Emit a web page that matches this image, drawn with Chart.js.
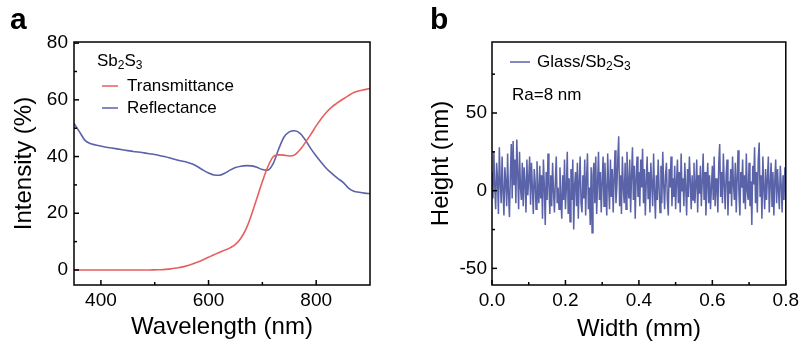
<!DOCTYPE html>
<html><head><meta charset="utf-8">
<script src="https://cdn.jsdelivr.net/npm/chart.js@4.4.1/dist/chart.umd.min.js"></script>
<style>
html,body{margin:0;padding:0;background:#fff;width:803px;height:349px;overflow:hidden}
#wa{position:absolute;left:0;top:0;width:400px;height:349px}
#wb{position:absolute;left:400px;top:0;width:403px;height:349px}
</style></head><body>
<div id="wa"><canvas id="ca" width="400" height="349"></canvas></div>
<div id="wb"><canvas id="cb" width="403" height="349"></canvas></div>
<script>
// ---------- Panel a data ----------
const wavelengths = [350,360,370,380,390,400,410,420,430,440,450,460,470,480,490,500,510,520,530,540,550,560,570,580,590,600,610,620,630,640,650,660,670,680,690,700,710,720,730,740,750,760,770,780,790,800,810,820,830,840,850,860,870,880,890,900];
const transmittance = [0,0,0,0,0,0,0,0,0,0,0,0,0,0,0,0.05,0.1,0.2,0.4,0.7,1.0,1.5,2.1,2.8,3.6,4.5,5.4,6.2,7.0,7.8,9.0,11.2,14.6,19.6,25.4,31.2,36.3,39.9,40.6,40.5,40.2,40.6,42.4,45.0,47.8,50.8,53.5,55.8,57.6,59.0,60.3,61.5,62.6,63.2,63.6,64.0];
const reflectance = [51.7,48.8,45.8,44.6,44.1,43.7,43.3,43.0,42.7,42.4,42.1,41.8,41.6,41.3,41.0,40.7,40.3,39.9,39.4,38.9,38.4,38.0,37.4,36.4,35.2,34.2,33.5,33.4,34.1,35.2,36.1,36.6,36.8,36.7,36.2,35.4,35.2,37.5,42.5,46.8,48.7,49.1,48.2,45.8,42.8,40.2,37.8,35.6,33.9,32.3,30.9,28.9,27.8,27.4,27.1,26.9];
const aXTicks = [400,600,800];
const aXMinor = [500,700];
const aYTicks = [0,20,40,60,80];
const aYMinor = [10,30,50,70];

// ---------- Panel b data ----------
const widthStepMm = 0.0025;
const heights = [
12,-5,25,3,-12,18,8,-15,28,5,-8,22,0,-16,15,6,-10,24,-2,-17,
10,30,-5,32,4,20,-8,33,12,-12,25,2,-6,18,-10,15,5,-14,20,-3,
8,22,-9,18,2,-15,14,6,-12,19,0,-8,16,-5,10,-18,20,3,-22,12,
-6,24,4,-15,10,-10,18,0,-14,6,22,-8,2,-12,15,-4,-18,10,-6,20,
-12,2,25,-15,8,-20,14,-6,20,-25,4,12,-10,18,-18,6,22,-8,-14,10,
-5,20,-16,8,24,-12,2,-22,15,-27,10,18,-8,22,-15,5,25,-6,12,-14,
6,22,-10,18,0,-16,24,4,-12,20,-4,14,-14,8,26,-8,2,20,35,-10,
10,-15,22,2,-8,18,-12,25,6,-5,20,-14,10,28,-6,16,-18,8,22,-4,
12,-10,20,2,27,-8,14,-16,6,22,-5,12,-14,18,4,-10,24,0,-18,10,
-6,20,2,-14,16,-8,25,4,-12,10,18,-6,-16,14,2,22,-10,8,-4,16,
-12,6,20,-8,12,-14,24,0,8,-10,18,2,-16,14,-4,22,6,-12,10,-6,
18,-8,4,20,-14,10,-2,16,-10,6,24,-6,12,-16,4,18,-8,10,-12,2,
16,-6,22,-10,8,2,-14,18,30,-4,12,-8,24,4,-12,10,20,-16,6,-2,
14,-10,22,4,-6,18,-14,8,26,-2,-16,12,2,20,-8,10,-12,24,0,-6,
18,-10,6,-22,16,4,28,-8,12,-14,20,31,-4,10,-18,22,2,-12,14,-6,
8,22,-14,4,18,-10,12,-16,6,20,-8,14,0,-12,16,4,-14,10,-6,15,
5];
const bXTicks = [0,0.2,0.4,0.6,0.8];
const bXMinor = [0.1,0.3,0.5,0.7];
const bYTicks = [-50,0,50];
const bYMinor = [-25,25,75];

const RED = '#e4605e';
const BLUE = '#5a62a8';
const FF = '"Liberation Sans", Arial, Helvetica, sans-serif';

function drawRich(ctx, parts, x, y, size){
  let cx = x;
  ctx.textBaseline = 'middle';
  ctx.textAlign = 'left';
  parts.forEach(p=>{
    if (p.sub){
      ctx.font = Math.round(size*0.7) + 'px ' + FF;
      ctx.fillText(p.t, cx, y + size*0.3);
    } else {
      ctx.font = size + 'px ' + FF;
      ctx.fillText(p.t, cx, y);
    }
    cx += ctx.measureText(p.t).width;
  });
}

const framePlugin = {
  id: 'frame',
  afterDraw(chart, args, o){
    const {ctx, chartArea: a, scales: {x, y}} = chart;
    ctx.save();
    ctx.strokeStyle = '#000';
    ctx.lineWidth = 1.5;
    ctx.strokeRect(a.left, a.top, a.right - a.left, a.bottom - a.top);
    const line = (x1,y1,x2,y2)=>{ctx.beginPath();ctx.moveTo(x1,y1);ctx.lineTo(x2,y2);ctx.stroke();};
    o.xMajor.forEach(v=>{const p=x.getPixelForValue(v); line(p,a.bottom,p,a.bottom-5);});
    o.xMinor.forEach(v=>{const p=x.getPixelForValue(v); line(p,a.bottom,p,a.bottom-3);});
    o.yMajor.forEach(v=>{const p=y.getPixelForValue(v); line(a.left,p,a.left+5,p);});
    o.yMinor.forEach(v=>{const p=y.getPixelForValue(v); line(a.left,p,a.left+3,p);});
    // panel letter
    ctx.fillStyle = '#000';
    ctx.font = 'bold 30px ' + FF;
    ctx.textBaseline = 'alphabetic';
    ctx.textAlign = 'left';
    ctx.fillText(o.letter, o.letterX, 29);
    // legend
    o.legend.forEach(it=>{
      if (it.color){
        ctx.strokeStyle = it.color;
        ctx.lineWidth = 1.5;
        line(it.lx1, it.y, it.lx2, it.y);
      }
      ctx.fillStyle = '#000';
      drawRich(ctx, it.parts, it.x, it.y, 17);
    });
    ctx.restore();
  }
};
Chart.register(framePlugin);

function axisCfg(opts){
  return {
    type: 'linear',
    min: opts.min, max: opts.max,
    grid: {display: false, drawTicks: false},
    border: {display: false},
    ticks: {color: '#000', font: {family: FF, size: 19}, padding: opts.pad, maxRotation: 0, autoSkip: false,
            callback: opts.fmt},
    afterBuildTicks: s => { s.ticks = opts.ticks.map(v => ({value: v})); },
    afterFit: s => { if (opts.w) s.width = opts.w; if (opts.h) s.height = opts.h; },
    title: {display: true, text: opts.title, color: '#000', font: {family: FF, size: 24}, padding: opts.tpad}
  };
}

new Chart(document.getElementById('ca'), {
  type: 'line',
  data: {
    datasets: [
      {label: 'Transmittance', data: wavelengths.map((w,i)=>({x:w,y:transmittance[i]})), borderColor: RED, borderWidth: 1.6, pointRadius: 0, cubicInterpolationMode: 'monotone', fill: false},
      {label: 'Reflectance', data: wavelengths.map((w,i)=>({x:w,y:reflectance[i]})), borderColor: BLUE, borderWidth: 1.6, pointRadius: 0, cubicInterpolationMode: 'monotone', fill: false}
    ]
  },
  options: {
    responsive: false, animation: false, devicePixelRatio: 1,
    layout: {padding: {left: 0, top: 42, right: 30, bottom: 0}},
    scales: {
      x: axisCfg({min: 350, max: 900, ticks: aXTicks, pad: 4, h: 64, title: 'Wavelength (nm)', tpad: {top: 0, bottom: 7}, fmt: v => String(v)}),
      y: axisCfg({min: -5.3, max: 80.4, ticks: aYTicks, pad: 6, w: 74, title: 'Intensity (%)', tpad: {top: 10, bottom: 0}, fmt: v => String(v)})
    },
    plugins: {
      legend: {display: false}, tooltip: {enabled: false},
      frame: {
        xMajor: aXTicks, xMinor: aXMinor, yMajor: aYTicks, yMinor: aYMinor,
        letter: 'a', letterX: 10,
        legend: [
          {parts: [{t:'Sb'},{t:'2',sub:true},{t:'S'},{t:'3',sub:true}], x: 97, y: 61},
          {color: RED, lx1: 102, lx2: 118, parts: [{t:'Transmittance'}], x: 127, y: 86},
          {color: BLUE, lx1: 102, lx2: 118, parts: [{t:'Reflectance'}], x: 127, y: 108}
        ]
      }
    }
  }
});

new Chart(document.getElementById('cb'), {
  type: 'line',
  data: {
    datasets: [
      {label: 'Glass/Sb2S3', data: heights.map((h,i)=>({x: i*widthStepMm, y: h})), borderColor: BLUE, borderWidth: 1.5, pointRadius: 0, tension: 0, fill: false}
    ]
  },
  options: {
    responsive: false, animation: false, devicePixelRatio: 1,
    layout: {padding: {left: 0, top: 42, right: 14, bottom: 0}},
    scales: {
      x: axisCfg({min: 0, max: 0.8, ticks: bXTicks, pad: 4, h: 64, title: 'Width (mm)', tpad: {top: 0, bottom: 5}, fmt: v => Number(v).toFixed(1)}),
      y: axisCfg({min: -60.7, max: 95.7, ticks: bYTicks, pad: 5, w: 92, title: 'Height (nm)', tpad: {top: 27, bottom: 0}, fmt: v => String(v)})
    },
    plugins: {
      legend: {display: false}, tooltip: {enabled: false},
      frame: {
        xMajor: bXTicks, xMinor: bXMinor, yMajor: bYTicks, yMinor: bYMinor,
        letter: 'b', letterX: 30,
        legend: [
          {color: BLUE, lx1: 110, lx2: 130, parts: [{t:'Glass/Sb'},{t:'2',sub:true},{t:'S'},{t:'3',sub:true}], x: 137, y: 62},
          {parts: [{t:'Ra=8 nm'}], x: 112, y: 95}
        ]
      }
    }
  }
});
</script>
</body></html>
